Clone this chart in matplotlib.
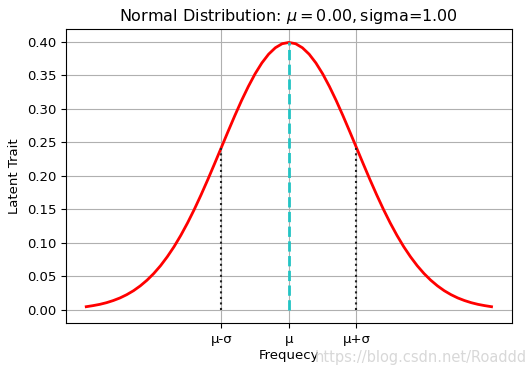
import matplotlib
matplotlib.use('Agg')
import matplotlib.pyplot as plt

# valeurs (densité normale mu=0, sigma=1)
x = [-3.0, -2.9, -2.8, -2.7, -2.6, -2.5, -2.4, -2.3, -2.2, -2.1, -2.0,
     -1.9, -1.8, -1.7, -1.6, -1.5, -1.4, -1.3, -1.2, -1.1, -1.0,
     -0.9, -0.8, -0.7, -0.6, -0.5, -0.4, -0.3, -0.2, -0.1, 0.0,
     0.1, 0.2, 0.3, 0.4, 0.5, 0.6, 0.7, 0.8, 0.9, 1.0,
     1.1, 1.2, 1.3, 1.4, 1.5, 1.6, 1.7, 1.8, 1.9, 2.0,
     2.1, 2.2, 2.3, 2.4, 2.5, 2.6, 2.7, 2.8, 2.9, 3.0]
y = [0.0044, 0.0060, 0.0079, 0.0104, 0.0136, 0.0175, 0.0224, 0.0283, 0.0355, 0.0440, 0.0540,
     0.0656, 0.0790, 0.0940, 0.1109, 0.1295, 0.1497, 0.1714, 0.1942, 0.2179, 0.2420,
     0.2661, 0.2897, 0.3123, 0.3332, 0.3521, 0.3683, 0.3814, 0.3910, 0.3970, 0.3989,
     0.3970, 0.3910, 0.3814, 0.3683, 0.3521, 0.3332, 0.3123, 0.2897, 0.2661, 0.2420,
     0.2179, 0.1942, 0.1714, 0.1497, 0.1295, 0.1109, 0.0940, 0.0790, 0.0656, 0.0540,
     0.0440, 0.0355, 0.0283, 0.0224, 0.0175, 0.0136, 0.0104, 0.0079, 0.0060, 0.0044]

mu = 0.0
sigma = 1.0
peak = 0.3989
y_sigma = 0.2420
tick_pos = [mu - sigma, mu, mu + sigma]
tick_labels = ['μ-σ', 'μ', 'μ+σ']

fig = plt.figure(figsize=(5.32, 3.73), dpi=100)
ax = fig.add_axes([0.124, 0.134, 0.838, 0.788])

ax.plot(x, y, color='red', lw=2)
ax.vlines(mu, 0, peak, colors='#22c4c4', linestyles='--', lw=2)
ax.vlines([mu - sigma, mu + sigma], 0, y_sigma, colors='#222222', linestyles=':', lw=1.5)

ax.set_xticks(tick_pos)
ax.set_xticklabels(tick_labels)
ax.set_yticks([0.0, 0.05, 0.10, 0.15, 0.20, 0.25, 0.30, 0.35, 0.40])
ax.yaxis.set_major_formatter(matplotlib.ticker.FormatStrFormatter('%.2f'))
ax.tick_params(labelsize=9.5)
ax.grid(True, color='#b0b0b0', lw=0.8)

ax.set_title(r'Normal Distribution: $\mu=%.2f,$sigma=%.2f' % (mu, sigma), fontsize=11.5)
ax.set_xlabel('Frequecy', fontsize=9.5, labelpad=2)
ax.set_ylabel('Latent Trait', fontsize=9.5)

fig.text(0.99, 0.03, 'https://blog.csdn.net/Roaddd', fontsize=10.5,
         color='#d8d8d8', ha='right')

fig.savefig('out.png', dpi=100)
